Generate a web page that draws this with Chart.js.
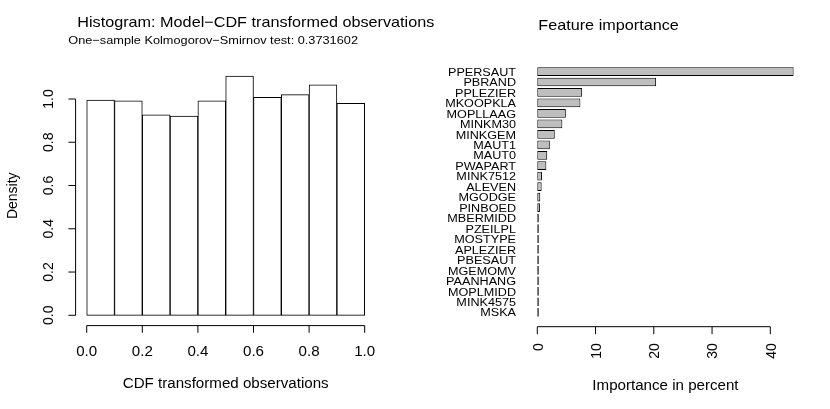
<!DOCTYPE html>
<html><head><meta charset="utf-8">
<script src="https://cdn.jsdelivr.net/npm/chart.js@4.4.0/dist/chart.umd.min.js"></script>
<style>
html,body{margin:0;padding:0;background:#fff;}
#wrap{position:relative;width:830px;height:409px;background:#fff;}
canvas{position:absolute;left:0;top:0;}
</style></head><body>
<div id="wrap"><canvas id="c1" width="830" height="409"></canvas><canvas id="c2" width="830" height="409"></canvas></div>
<script>
// ---- data ----
const histBreaks = [0.0, 0.1, 0.2, 0.3, 0.4, 0.5, 0.6, 0.7, 0.8, 0.9, 1.0];
const histDensity = [0.995, 0.991, 0.927, 0.921, 0.991, 1.106, 1.008, 1.020, 1.066, 0.980];
const histXTicks = [0.0, 0.2, 0.4, 0.6, 0.8, 1.0];
const histYTicks = [0.0, 0.2, 0.4, 0.6, 0.8, 1.0];
const featureNames = ['PPERSAUT','PBRAND','PPLEZIER','MKOOPKLA','MOPLLAAG','MINKM30','MINKGEM','MAUT1','MAUT0','PWAPART','MINK7512','ALEVEN','MGODGE','PINBOED','MBERMIDD','PZEILPL','MOSTYPE','APLEZIER','PBESAUT','MGEMOMV','PAANHANG','MOPLMIDD','MINK4575','MSKA'];
const featureImportance = [44.0, 20.4, 7.7, 7.4, 4.9, 4.3, 3.0, 2.15, 1.7, 1.55, 0.8, 0.75, 0.5, 0.45, 0.2, 0.18, 0.16, 0.12, 0.08, 0.06, 0.05, 0.04, 0.03, 0.02];
const importanceTicks = [0, 10, 20, 30, 40];

const histTitle = 'Histogram: Model\u2212CDF transformed observations';
const histSubtitle = 'One\u2212sample Kolmogorov\u2212Smirnov test: 0.3731602';
const histXLabel = 'CDF transformed observations';
const histYLabel = 'Density';
const impTitle = 'Feature importance';
const impXLabel = 'Importance in percent';

// ---- helpers ----
const SX = 1.08;
const FONT = '"Liberation Sans", Arial, Helvetica, sans-serif';
function txt(ctx, s, x, y, size, align, rot) {
  ctx.save();
  ctx.translate(x, y);
  ctx.scale(SX, 1);
  if (rot) ctx.rotate(-Math.PI / 2);
  ctx.font = size + 'px ' + FONT;
  ctx.textAlign = align;
  ctx.textBaseline = 'alphabetic';
  ctx.fillStyle = '#000';
  ctx.fillText(s, 0, 0);
  ctx.restore();
}
function line(ctx, x1, y1, x2, y2) {
  ctx.beginPath(); ctx.moveTo(x1, y1); ctx.lineTo(x2, y2); ctx.stroke();
}

const histAxes = {
  id: 'histAxes',
  afterDraw(chart) {
    const ctx = chart.ctx, xs = chart.scales.x, ys = chart.scales.y, a = chart.chartArea;
    ctx.save();
    ctx.strokeStyle = '#000'; ctx.lineWidth = 1;
    const ax = a.left;
    line(ctx, ax, ys.getPixelForValue(histYTicks[0]), ax, ys.getPixelForValue(histYTicks[histYTicks.length - 1]));
    histYTicks.forEach(t => {
      const py = ys.getPixelForValue(t);
      line(ctx, ax, py, ax - 7.2, py);
      txt(ctx, t.toFixed(1), ax - 22.5, py, 14, 'center', true);
    });
    const ay = a.bottom + 0.7;
    line(ctx, xs.getPixelForValue(histXTicks[0]), ay, xs.getPixelForValue(histXTicks[histXTicks.length - 1]), ay);
    histXTicks.forEach(t => {
      const px = xs.getPixelForValue(t);
      line(ctx, px, ay, px, ay + 7.2);
      txt(ctx, t.toFixed(1), px, ay + 30, 14, 'center', false);
    });
    txt(ctx, histTitle, 77.3, 27.3, 15, 'left', false);
    txt(ctx, histSubtitle, 68.3, 44.3, 11.8, 'left', false);
    txt(ctx, histXLabel, (a.left + a.right) / 2, 388.3, 14, 'center', false);
    txt(ctx, histYLabel, 16.7, (a.top + a.bottom) / 2, 14, 'center', true);
    ctx.restore();
  }
};

const impAxes = {
  id: 'impAxes',
  afterDraw(chart) {
    const ctx = chart.ctx, xs = chart.scales.x, ys = chart.scales.y, a = chart.chartArea;
    ctx.save();
    ctx.strokeStyle = '#000'; ctx.lineWidth = 1;
    const ay = 326.7;
    line(ctx, xs.getPixelForValue(importanceTicks[0]), ay, xs.getPixelForValue(importanceTicks[importanceTicks.length - 1]), ay);
    importanceTicks.forEach(t => {
      const px = xs.getPixelForValue(t);
      line(ctx, px, ay, px, ay + 7.5);
      txt(ctx, String(t), px + 5.4, 343.3, 14, 'right', true);
    });
    featureNames.forEach((n, i) => {
      txt(ctx, n, 516, ys.getPixelForValue(i) + 4.2, 11.7, 'right', false);
    });
    txt(ctx, impTitle, 538.3, 30, 15, 'left', false);
    txt(ctx, impXLabel, (a.left + a.right) / 2, 389.5, 14, 'center', false);
    ctx.restore();
  }
};

// ---- histogram ----
new Chart(document.getElementById('c1'), {
  type: 'bar',
  data: {
    datasets: [{
      data: histDensity.map((d, i) => ({ x: (histBreaks[i] + histBreaks[i + 1]) / 2, y: d })),
      backgroundColor: '#ffffff',
      borderColor: '#000000',
      borderWidth: 1,
      borderSkipped: false,
      barPercentage: 1,
      categoryPercentage: 1
    }]
  },
  options: {
    responsive: false, animation: false, events: [],
    layout: { padding: { left: 75.6, right: 454.2, top: 66.6, bottom: 84.1 } },
    plugins: { legend: { display: false }, tooltip: { enabled: false }, title: { display: false } },
    scales: {
      x: { type: 'linear', min: -0.04, max: 1.04, offset: false, display: false },
      y: { type: 'linear', min: -0.0444, max: 1.1498, display: false }
    }
  },
  plugins: [histAxes]
});

// ---- feature importance ----
new Chart(document.getElementById('c2'), {
  type: 'bar',
  data: {
    labels: featureNames,
    datasets: [{
      data: featureImportance,
      backgroundColor: '#bebebe',
      borderColor: '#000000',
      borderWidth: 1,
      borderSkipped: false,
      barPercentage: 1 / 1.2,
      categoryPercentage: 1,
      minBarLength: 1.5
    }]
  },
  options: {
    indexAxis: 'y',
    responsive: false, animation: false, events: [],
    layout: { padding: { left: 525.65, right: 24.75, top: 66.3, bottom: 91.5 } },
    plugins: { legend: { display: false }, tooltip: { enabled: false }, title: { display: false } },
    scales: {
      x: { type: 'linear', min: -2, max: 46, display: false },
      y: { type: 'category', offset: true, display: false }
    }
  },
  plugins: [impAxes]
});
</script>
</body></html>
